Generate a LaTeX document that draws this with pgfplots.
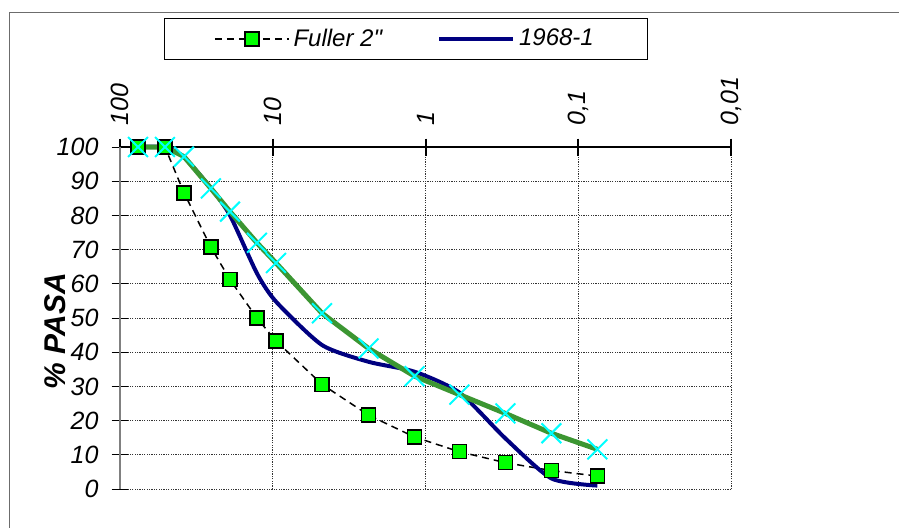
\documentclass[border=0pt]{standalone}
\usepackage{pgfplots}
\pgfplotsset{compat=1.18}
\usepackage{fontspec}
\setmainfont{Liberation Sans}
\newfontfamily\nomap{Liberation Sans}[Ligatures=TeXOff]
\definecolor{fgreen}{RGB}{0,255,0}
\definecolor{navyl}{RGB}{0,0,128}
\definecolor{grline}{RGB}{60,150,50}
\definecolor{cyanx}{RGB}{0,255,255}
\begin{document}
\begin{tikzpicture}
\useasboundingbox (0,0) rectangle (449.5pt,263.5pt);
\draw[gray!85!black, line width=0.5pt] (4.5pt,-2pt) -- (4.5pt,257.5pt) -- (452pt,257.5pt);
\begin{axis}[
  at={(60pt,19pt)}, anchor=south west,
  scale only axis, width=305.5pt, height=171pt,
  xmode=log, x dir=reverse,
  xmin=0.01, xmax=100, ymin=0, ymax=100,
  axis x line=top, axis y line=left,
  x axis line style={-, black, line width=1pt},
  y axis line style={-, gray, line width=0.9pt},
  xtick={0.01,0.1,1,10,100},
  xticklabels={{0,01},{0,1},1,10,100},
  ytick={0,10,...,100},
  xminorticks=false, yminorticks=false,
  tick align=center, major tick length=8.5pt,
  x tick style={black, line width=1pt},
  y tick style={black, line width=0.5pt},
  grid=major,
  major grid style={black!80, line width=0.5pt, dash pattern=on 0.6pt off 0.6pt},
  /pgf/number format/assume math mode=true,
  ticklabel style={font=\itshape\fontsize{12.5}{14}\selectfont},
  xticklabel style={rotate=90, anchor=west},
  xticklabel shift=3pt,
  yticklabel shift=3pt,
  ylabel={\bfseries\itshape \% PASA},
  ylabel style={at={(axis description cs:-0.106,0.462)}, anchor=center, font=\fontsize{15}{17}\selectfont},
  legend columns=2,
  legend style={at={(axis description cs:0.468,1.316)}, anchor=center, draw=black, line width=0.5pt,
    font=\itshape\fontsize{12}{14}\selectfont, inner xsep=25pt, inner ysep=3pt,
    /tikz/every even column/.append style={column sep=25.5pt}},
  legend image code/.code={\draw[mark repeat=2,mark phase=2,#1] plot coordinates {(0cm,0cm) (0.65cm,0cm) (1.3cm,0cm)};},
  clip=false,
]
\addplot[black, line width=0.75pt, dash pattern=on 3.5pt off 2.5pt, mark=square*,
  mark size=3.5pt, mark options={solid, fill=fgreen, draw=black, line width=0.75pt}]
coordinates {(76.2,100)(50.8,100)(38.1,86.6)(25.4,70.7)(19.05,61.2)(12.7,50)(9.525,43.3)(4.76,30.6)(2.36,21.6)(1.18,15.2)(0.6,10.9)(0.3,7.7)(0.15,5.4)(0.075,3.8)};
\addlegendentry{Fuller 2{\nomap\itshape "}}
\addplot[navyl, line width=2pt, smooth, tension=0.4]
coordinates {(76.2,100)(50.8,100)(38.1,97)(25.4,88)(19.05,80)(12.7,63.1)(9.525,54.8)(4.76,42.1)(2.36,37.2)(1.18,34.3)(0.6,28.2)(0.3,14.8)(0.15,3.1)(0.075,1.0)};
\addlegendentry{1968-1}
\addplot[grline, line width=2.5pt, mark=x, mark size=7pt, mark options={cyanx, line width=1pt}, forget plot]
coordinates {(76.2,100)(50.8,100)(38.1,97.2)(25.4,87.9)(19.05,81.1)(12.7,72.0)(9.525,66.1)(4.76,51.4)(2.36,41.1)(1.18,33.0)(0.6,27.6)(0.3,22.1)(0.15,16.3)(0.075,11.6)};
\end{axis}
\end{tikzpicture}
\end{document}
